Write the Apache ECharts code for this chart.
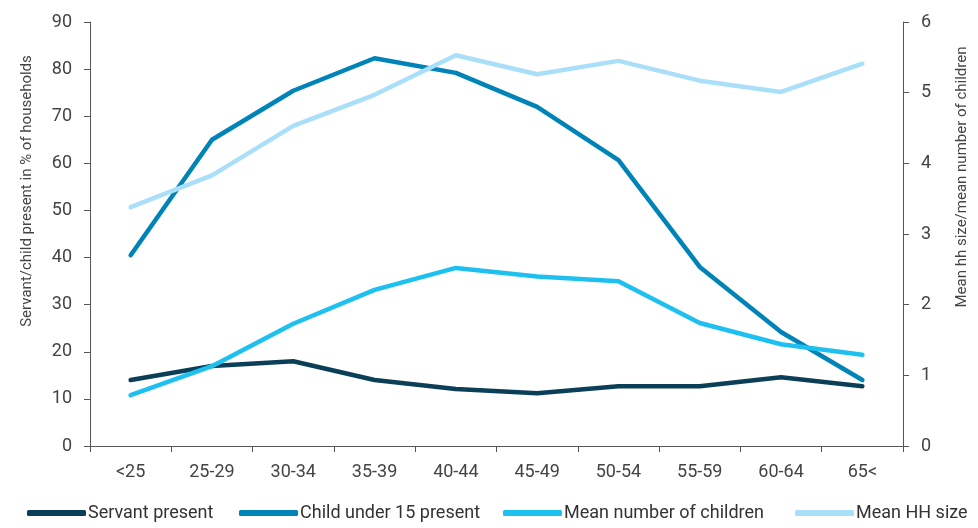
<!DOCTYPE html>
<html>
<head>
<meta charset="utf-8">
<script src="https://cdn.jsdelivr.net/npm/echarts@6/dist/echarts.min.js"></script>
<style>
html,body{margin:0;padding:0;background:#fff;}
#chart{width:978px;height:528px;}
</style>
</head>
<body>
<div id="chart"></div>
<script>
const categories = ['<25','25-29','30-34','35-39','40-44','45-49','50-54','55-59','60-64','65<'];
const servantPresent = [14.0, 17.0, 18.0, 14.0, 12.1, 11.2, 12.7, 12.7, 14.6, 12.7];
const childUnder15 = [40.5, 65.0, 75.4, 82.3, 79.2, 72.0, 60.7, 38.0, 24.2, 14.0];
const meanChildren = [0.72, 1.13, 1.73, 2.21, 2.52, 2.40, 2.33, 1.74, 1.44, 1.29];
const meanHHSize = [3.38, 3.83, 4.53, 4.97, 5.53, 5.26, 5.45, 5.17, 5.01, 5.41];
const seriesNames = ['Servant present', 'Child under 15 present', 'Mean number of children', 'Mean HH size'];
const leftTicks = {min: 0, max: 90, interval: 10};
const rightTicks = {min: 0, max: 6, interval: 1};

const FONT = 'Roboto';
const chart = echarts.init(document.getElementById('chart'));
const axisLine = {show: true, lineStyle: {color: '#555', width: 1}};
const axisTick = {show: true, length: 6, lineStyle: {color: '#555'}};
const axisLabel = {color: '#444', fontSize: 18, fontFamily: FONT};
const legendLefts = [22, 234, 498, 790];

function lineSeries(name, data, color, yIndex) {
  return {
    name, type: 'line', data, yAxisIndex: yIndex,
    symbol: 'none', smooth: false,
    lineStyle: {color, width: 4.5, cap: 'round', join: 'round'},
    itemStyle: {color},
    animation: false
  };
}

chart.setOption({
  animation: false,
  grid: {left: 90, right: 63, top: 22, bottom: 82, containLabel: false},
  legend: seriesNames.map((n, i) => ({
    bottom: 1, left: legendLefts[i], orient: 'horizontal',
    icon: 'roundRect', itemWidth: 59, itemHeight: 6, itemGap: 0,
    textStyle: {color: '#333', fontSize: 18, fontFamily: FONT, padding: [0, 0, 0, -3]},
    data: [n]
  })),
  xAxis: {
    type: 'category', data: categories, boundaryGap: true,
    axisLine, axisTick: {show: true, length: 6, alignWithLabel: false, lineStyle: {color: '#555'}},
    axisLabel: Object.assign({}, axisLabel, {margin: 17}),
    splitLine: {show: false}
  },
  yAxis: [
    {
      type: 'value', position: 'left', min: leftTicks.min, max: leftTicks.max, interval: leftTicks.interval,
      name: 'Servant/child present in % of households', nameLocation: 'middle', nameGap: 55, nameRotate: 90,
      nameTextStyle: {color: '#444', fontSize: 15, fontFamily: FONT, padding: [0, 0, 0, 86]},
      axisLine, axisTick, axisLabel: Object.assign({}, axisLabel, {margin: 18}),
      splitLine: {show: false}
    },
    {
      type: 'value', position: 'right', min: rightTicks.min, max: rightTicks.max, interval: rightTicks.interval,
      name: 'Mean hh size/mean number of children', nameLocation: 'middle', nameGap: 52, nameRotate: 90,
      nameTextStyle: {color: '#444', fontSize: 15, fontFamily: FONT, padding: [0, 0, 0, 114]},
      axisLine, axisTick, axisLabel: Object.assign({}, axisLabel, {margin: 18}),
      splitLine: {show: false}
    }
  ],
  series: [
    lineSeries(seriesNames[0], servantPresent, '#0b3f57', 0),
    lineSeries(seriesNames[1], childUnder15, '#0084b8', 0),
    lineSeries(seriesNames[2], meanChildren, '#1ec0f0', 1),
    lineSeries(seriesNames[3], meanHHSize, '#aadffa', 1)
  ]
});
</script>
</body>
</html>
